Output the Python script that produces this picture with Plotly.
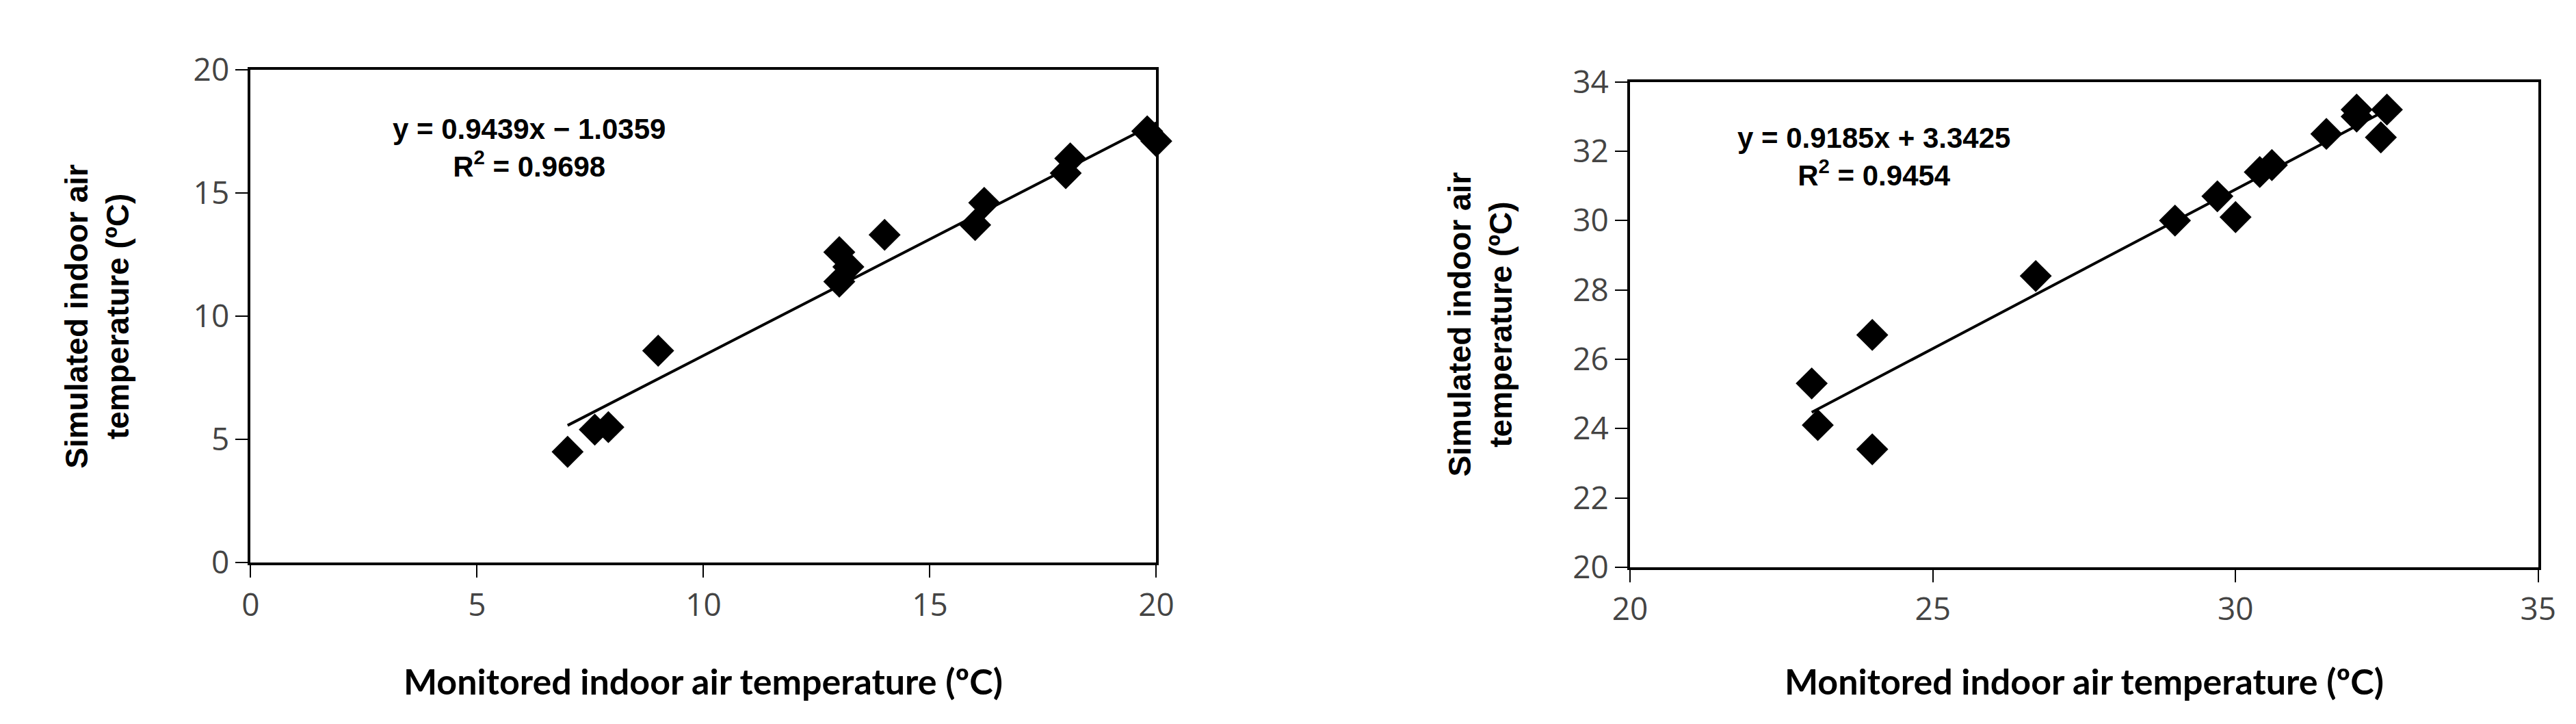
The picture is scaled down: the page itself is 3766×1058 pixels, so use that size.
import plotly.graph_objects as go

x1 = [7, 7.6, 7.9, 9, 13, 13, 13.2, 14, 16, 16.2, 18, 18.1, 19.8, 20]
y1 = [4.5, 5.4, 5.5, 8.6, 12.6, 11.4, 12.0, 13.3, 13.7, 14.6, 15.8, 16.4, 17.5, 17.1]
x2 = [23, 23.1, 24, 24, 26.7, 29, 29.7, 30, 30.4, 30.6, 31.5, 32, 32, 32.4, 32.5]
y2 = [25.3, 24.1, 26.7, 23.4, 28.4, 30.0, 30.7, 30.1, 31.4, 31.6, 32.5, 33.2, 33.0, 32.4, 33.2]
fit1 = (0.9439, -1.0359)
fit2 = (0.9185, 3.3425)
xt = "Monitored indoor air temperature (ºC)"
yt = "Simulated indoor air<br>temperature (ºC)"

fig = go.Figure()
mk = dict(symbol="diamond", size=36, color="black")
fig.add_trace(go.Scatter(x=x1, y=y1, mode="markers", marker=mk, cliponaxis=False, xaxis="x", yaxis="y"))
lx1 = [min(x1), max(x1)]
fig.add_trace(go.Scatter(x=lx1, y=[fit1[0]*v+fit1[1] for v in lx1], mode="lines",
                         line=dict(color="black", width=4), xaxis="x", yaxis="y"))
fig.add_trace(go.Scatter(x=x2, y=y2, mode="markers", marker=mk, cliponaxis=False, xaxis="x2", yaxis="y2"))
lx2 = [min(x2), max(x2)]
fig.add_trace(go.Scatter(x=lx2, y=[fit2[0]*v+fit2[1] for v in lx2], mode="lines",
                         line=dict(color="black", width=4), xaxis="x2", yaxis="y2"))

ax = dict(showline=True, mirror=True, linecolor="black", linewidth=4, ticks="outside",
          ticklen=18, tickwidth=2, tickcolor="black", showgrid=False, zeroline=False,
          tickfont=dict(family="Open Sans", size=46, color="#444"))
fig.update_layout(
    width=3766, height=1058, showlegend=False, plot_bgcolor="white", paper_bgcolor="white",
    margin=dict(l=0, r=0, t=0, b=0),
    xaxis=dict(ax, domain=[0.0895, 0.446], range=[0, 20], dtick=5, anchor="y"),
    yaxis=dict(ax, domain=[0.2155, 0.939], range=[0, 20], dtick=5, anchor="x"),
    xaxis2=dict(ax, domain=[0.6325, 0.990], range=[20, 35], dtick=5, anchor="y2"),
    yaxis2=dict(ax, domain=[0.209, 0.921], range=[20, 34], dtick=2, anchor="x2"),
)
tf = dict(family="Lato", size=52, color="black")
yf = dict(family="Liberation Sans", size=46, color="black")
ef = dict(family="Liberation Sans", size=42, color="black")
ann = [
    dict(x=1008/3766, y=1-1013/1058, text="<b>"+xt+"</b>", font=tf),
    dict(x=3055/3766, y=1-1013/1058, text="<b>"+xt+"</b>", font=tf),
    dict(x=110/3766, y=0.577, text="<b>"+yt+"</b>", font=yf, textangle=-90),
    dict(x=2160/3766, y=0.565, text="<b>"+yt+"</b>", font=yf, textangle=-90),
    dict(x=750/3766, y=1-186/1058, text="<b>y = 0.9439x − 1.0359<br>R<sup>2</sup> = 0.9698</b>", font=ef),
    dict(x=2743/3766, y=1-200/1058, text="<b>y = 0.9185x + 3.3425<br>R<sup>2</sup> = 0.9454</b>", font=ef),
]
for a in ann:
    a.update(xref="paper", yref="paper", showarrow=False, xanchor="center", yanchor="middle")
fig.update_layout(annotations=ann)
fig.write_html("out.html")
